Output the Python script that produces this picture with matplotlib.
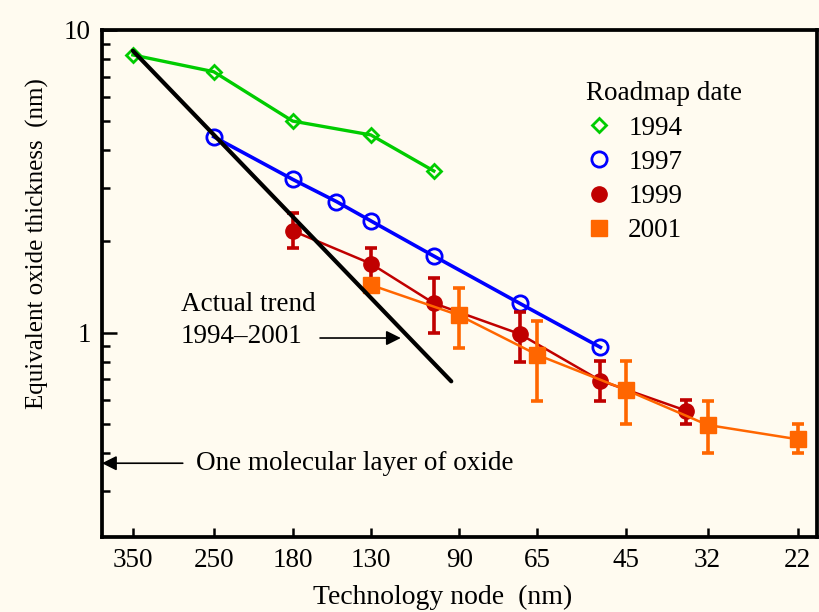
import matplotlib.pyplot as plt
from matplotlib.lines import Line2D
from matplotlib.ticker import FixedLocator, NullFormatter, NullLocator

plt.rcParams['font.family'] = ['Liberation Serif', 'DejaVu Serif']

# roadmap targets, EOT (nm) vs technology node (nm)
nodes_1994 = [350, 250, 180, 130, 100]
eot_1994 = [8.27, 7.28, 5.0, 4.5, 3.42]

nodes_1997 = [250, 180, 150, 130, 100, 70, 50]
eot_1997 = [4.44, 3.21, 2.71, 2.34, 1.79, 1.25, 0.894]

nodes_1999 = [180, 130, 100, 70, 50, 35]
eot_1999 = [2.17, 1.69, 1.25, 0.99, 0.694, 0.552]
low_1999 = [1.90, 1.50, 1.00, 0.80, 0.595, 0.50]
high_1999 = [2.49, 1.90, 1.51, 1.17, 0.808, 0.60]

nodes_2001 = [130, 90, 65, 45, 32, 22]
eot_2001 = [1.437, 1.14, 0.844, 0.647, 0.495, 0.444]
low_2001 = [1.437, 0.888, 0.592, 0.50, 0.40, 0.40]
high_2001 = [1.437, 1.40, 1.096, 0.806, 0.595, 0.50]

trend_nodes = [350, 93]
trend_eot = [8.54, 0.69]

one_layer = 0.37

node_ticks = [350, 250, 180, 130, 90, 65, 45, 32, 22]

bg = '#fffbf0'
green = '#00cc00'
blue = '#0000ff'
red = '#c00000'
orange = '#ff6600'

fig = plt.figure(figsize=(8.19, 6.12), dpi=100, facecolor=bg)
ax = fig.add_axes([0.1245, 0.1225, 0.873, 0.8285], facecolor=bg)

ax.plot(nodes_1994, eot_1994, color=green, lw=2.4, marker='D', ms=7.5,
        mfc='none', mec=green, mew=2, zorder=3)
ax.plot(nodes_1997, eot_1997, color=blue, lw=2.6, marker='o', ms=11,
        mfc='none', mec=blue, mew=2, zorder=3)

err_1999 = [[c - l for c, l in zip(eot_1999, low_1999)],
            [h - c for c, h in zip(eot_1999, high_1999)]]
ax.errorbar(nodes_1999, eot_1999, yerr=err_1999, color=red, lw=1.8,
            marker='o', ms=11, mfc=red, mec=red, ecolor=red, elinewidth=2.6,
            capsize=4, capthick=2.6, zorder=4)

err_2001 = [[c - l for c, l in zip(eot_2001, low_2001)],
            [h - c for c, h in zip(eot_2001, high_2001)]]
ax.errorbar(nodes_2001, eot_2001, yerr=err_2001, color=orange, lw=1.8,
            marker='s', ms=11, mfc=orange, mec=orange, ecolor=orange,
            elinewidth=2.6, capsize=4, capthick=2.6, zorder=5)

ax.plot(trend_nodes, trend_eot, color='black', lw=3, solid_capstyle='round',
        zorder=6)

ax.set_xscale('log')
ax.set_yscale('log')
ax.set_xlim(398, 20.3)
ax.set_ylim(0.211, 10)

ax.xaxis.set_major_locator(FixedLocator(node_ticks))
ax.xaxis.set_minor_locator(NullLocator())
ax.set_xticklabels([str(n) for n in node_ticks])
ax.yaxis.set_major_locator(FixedLocator([1, 10]))
ax.yaxis.set_minor_locator(FixedLocator([0.3, 0.4, 0.5, 0.6, 0.7, 0.8, 0.9,
                                         2, 3, 4, 5, 6, 7, 8, 9]))
ax.yaxis.set_minor_formatter(NullFormatter())
ax.set_yticklabels(['1', '10'])

ax.tick_params(axis='x', which='major', direction='in', length=6.5, width=1.8,
               labelsize=19.5, pad=8, top=False)
ax.tick_params(axis='y', which='major', direction='in', length=10.8, width=1.8,
               labelsize=19.5, pad=8, right=False)
ax.tick_params(axis='y', which='minor', direction='in', length=5.5, width=1.8,
               right=False)
for s in ax.spines.values():
    s.set_linewidth(2.7)

ax.set_xlabel('Technology node  (nm)', fontsize=20)
ax.xaxis.set_label_coords(0.477, -0.12)
ax.xaxis.label.set_va('center')
ax.set_ylabel('Equivalent oxide thickness  (nm)', fontsize=18)
ax.yaxis.set_label_coords(-0.09, 0.578)
ax.yaxis.label.set_va('center')

ax.text(0.11, 0.427, 'Actual trend\n1994\u20132001', transform=ax.transAxes,
        fontsize=19.5, ha='left', va='center', linespacing=1.35)
ax.annotate('', xy=(0.418, 0.3925), xytext=(0.305, 0.3925),
            xycoords='axes fraction', textcoords='axes fraction',
            arrowprops=dict(arrowstyle='-|>', color='black', lw=1.2,
                            mutation_scale=22, shrinkA=0, shrinkB=0))

ax.annotate('', xy=(0.0, one_layer), xytext=(0.113, one_layer),
            xycoords=('axes fraction', 'data'),
            textcoords=('axes fraction', 'data'),
            arrowprops=dict(arrowstyle='-|>', color='black', lw=1.2,
                            mutation_scale=22, shrinkA=0, shrinkB=0))
ax.text(0.1315, one_layer, 'One molecular layer of oxide',
        transform=ax.get_yaxis_transform(), fontsize=19.5,
        ha='left', va='center')

handles = [
    Line2D([], [], ls='none', marker='D', ms=7.5, mfc='none', mec=green, mew=2),
    Line2D([], [], ls='none', marker='o', ms=11, mfc='none', mec=blue, mew=2),
    Line2D([], [], ls='none', marker='o', ms=11, mfc=red, mec=red),
    Line2D([], [], ls='none', marker='s', ms=11, mfc=orange, mec=orange),
]
leg = ax.legend(handles, ['1994', '1997', '1999', '2001'],
                title='Roadmap date', loc='upper left',
                bbox_to_anchor=(0.65, 0.936), frameon=False,
                fontsize=19.5, title_fontsize=19.5, alignment='left',
                handlelength=1.0, handletextpad=0.57, labelspacing=0.34,
                borderpad=0.2)

fig.savefig('out.png', dpi=100, facecolor=bg)
